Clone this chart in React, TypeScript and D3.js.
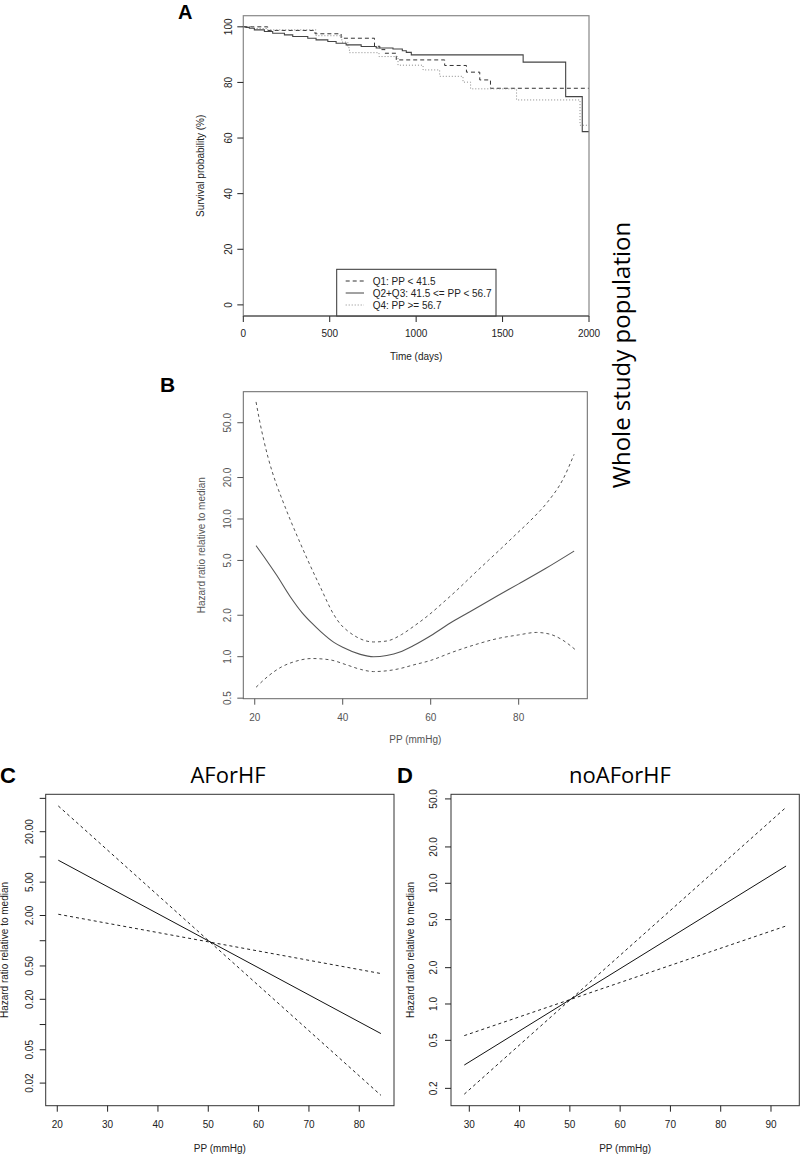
import React from "react";
import * as d3 from "d3";

// ---------- Panel A: Kaplan-Meier survival (step points: time in days, survival %) ----------
const q1Times = [0, 141, 415, 566, 759, 790, 820, 885, 1165, 1291, 1368, 1430, 2000];
const q1Surv = [100, 98.7, 97.5, 95.9, 93.0, 91.8, 90.5, 88.1, 86.1, 83.7, 80.9, 77.9, 77.9];

const q23Times = [0, 15, 35, 64, 122, 170, 238, 286, 373, 421, 489, 537, 595, 682, 769, 866, 920, 943, 972, 1619, 1865, 1961, 2000];
const q23Surv = [100, 99.8, 99.5, 98.9, 98.3, 97.7, 97.1, 96.5, 95.9, 95.3, 94.7, 94.1, 93.5, 92.9, 92.4, 92.0, 91.4, 90.8, 89.9, 87.3, 74.9, 62.3, 62.3];

const q4Times = [0, 60, 140, 421, 570, 605, 614, 785, 895, 1040, 1136, 1271, 1315, 1581, 1948, 2000];
const q4Surv = [100, 99.4, 98.9, 96.8, 94.5, 92.5, 90.7, 89.3, 86.2, 84.5, 82.2, 80.1, 77.7, 73.7, 64.6, 64.6];

const legendLabels = ["Q1: PP < 41.5", "Q2+Q3: 41.5 <= PP < 56.7", "Q4: PP >= 56.7"];
const aXTicks = [0, 500, 1000, 1500, 2000];
const aYTicks = [0, 20, 40, 60, 80, 100];

// ---------- Panel B: spline hazard ratio (whole population) ----------
const bFitX = [20.3, 22.7, 25, 28, 30.7, 33, 35, 38, 40, 44, 47, 50, 53, 56, 60, 65, 70, 75, 80, 86, 92.6];
const bFitHR = [6.4, 5.0, 3.9, 2.75, 2.1, 1.75, 1.52, 1.27, 1.17, 1.04, 1.0, 1.02, 1.08, 1.2, 1.42, 1.8, 2.22, 2.75, 3.38, 4.35, 5.85];

const bUpX = [20.3, 21, 22, 23, 24, 25, 26, 28, 30, 32, 35, 37.9, 39.5, 41, 43, 45, 47, 50, 53.4, 56, 59.5, 63, 66, 69.5, 73.1, 76, 79.5, 83.3, 86.5, 90.1, 92.6];
const bUpHR = [70.8, 53.7, 38.0, 28.2, 21.9, 17.6, 14.5, 10.0, 7.08, 5.07, 3.16, 2.04, 1.72, 1.55, 1.4, 1.31, 1.28, 1.3, 1.45, 1.65, 2.0, 2.5, 3.05, 3.9, 5.0, 6.1, 7.8, 10.2, 13.2, 19.5, 29.5];

const bLoX = [20.3, 23, 26, 29, 33, 37, 41, 44, 47, 50, 53, 56, 60, 65, 70, 75, 80, 84, 87, 90, 92.8];
const bLoHR = [0.6, 0.72, 0.84, 0.92, 0.97, 0.95, 0.87, 0.81, 0.78, 0.79, 0.82, 0.87, 0.94, 1.08, 1.22, 1.35, 1.44, 1.5, 1.46, 1.32, 1.13];

const bXTicks = [20, 40, 60, 80];
const bYTicks = [0.5, 1, 2, 5, 10, 20, 50];
const bYLabels = ["0.5", "1.0", "2.0", "5.0", "10.0", "20.0", "50.0"];

// ---------- Panel C: AForHF (log-linear) ----------
const cX = [20.2, 84.3];
const cFit = [9.14, 0.078];
const cUpper = [40.6, 0.0143];
const cLower = [2.07, 0.406];
const cXTicks = [20, 30, 40, 50, 60, 70, 80];
const cYTicks = [0.02, 0.05, 0.1, 0.2, 0.5, 1, 2, 5, 10, 20, 50];
const cYLabels = ["0.02", "0.05", "", "0.20", "0.50", "", "2.00", "5.00", "", "20.00", ""];

// ---------- Panel D: noAForHF (log-linear) ----------
const dX = [29, 93];
const dFit = [0.312, 13.9];
const dUpper = [0.179, 42.6];
const dLower = [0.547, 4.43];
const dXTicks = [30, 40, 50, 60, 70, 80, 90];
const dYTicks = [0.2, 0.5, 1, 2, 5, 10, 20, 50];
const dYLabels = ["0.2", "0.5", "1.0", "2.0", "5.0", "10.0", "20.0", "50.0"];

const FONT = "'Liberation Sans', Arial, Helvetica, sans-serif";
const TITLE_FONT = "'Open Sans', 'Noto Sans', sans-serif";

type Scale = (v: number) => number;

function YAxis(props: {
  y: Scale; ticks: number[]; labels: string[]; x0: number; labelX: number; color: string;
}) {
  const { y, ticks, labels, x0, labelX, color } = props;
  return (
    <g>
      {ticks.map((t, i) => (
        <g key={i}>
          <line x1={x0 - 6} x2={x0} y1={y(t)} y2={y(t)} stroke={color} strokeWidth={1} />
          {labels[i] !== "" && (
            <text
              transform={`translate(${labelX},${y(t)}) rotate(-90)`}
              textAnchor="middle"
              fontFamily={FONT}
              fontSize={10}
              fill={color}
            >
              {labels[i]}
            </text>
          )}
        </g>
      ))}
    </g>
  );
}

function XAxis(props: {
  x: Scale; ticks: number[]; labels: string[]; y0: number; labelY: number; color: string;
}) {
  const { x, ticks, labels, y0, labelY, color } = props;
  return (
    <g>
      {ticks.map((t, i) => (
        <g key={i}>
          <line x1={x(t)} x2={x(t)} y1={y0} y2={y0 + 6} stroke={color} strokeWidth={1} />
          <text x={x(t)} y={labelY} textAnchor="middle" fontFamily={FONT} fontSize={10} fill={color}>
            {labels[i]}
          </text>
        </g>
      ))}
    </g>
  );
}

function zip(xs: number[], ys: number[]): [number, number][] {
  return xs.map((v, i) => [v, ys[i]] as [number, number]);
}

export default function App() {
  // ----- Panel A scales -----
  const aL = 243.3, aR = 589, aT = 15.7, aB = 316;
  const ax = d3.scaleLinear().domain([0, 2000]).range([aL, aR]);
  const ay = d3.scaleLinear().domain([-4, 104]).range([aB, aT]);
  const stepLine = d3
    .line<[number, number]>()
    .x((d) => ax(d[0]))
    .y((d) => ay(d[1]))
    .curve(d3.curveStepAfter);

  // ----- Panel B scales -----
  const bL = 243.3, bR = 587.3, bT = 391.7, bB = 698.7;
  const bx = d3.scaleLinear().domain([17.4, 95.6]).range([bL, bR]);
  const by = d3.scaleLog().domain([0.4955, 84]).range([bB, bT]);
  const bLine = d3
    .line<[number, number]>()
    .x((d) => bx(d[0]))
    .y((d) => by(d[1]))
    .curve(d3.curveMonotoneX);

  // ----- Panel C scales -----
  const cL = 45.7, cR = 394, cT = 794.3, cB = 1105.7;
  const cx = d3.scaleLinear().domain([17.7, 86.9]).range([cL, cR]);
  const cy = d3.scaleLog().domain([0.01075, 55.9]).range([cB, cT]);
  const cLine = d3.line<[number, number]>().x((d) => cx(d[0])).y((d) => cy(d[1]));

  // ----- Panel D scales -----
  const dL = 451, dR = 799.3, dT = 794.3, dB = 1105.7;
  const dx = d3.scaleLinear().domain([26.36, 95.63]).range([dL, dR]);
  const dy = d3.scaleLog().domain([0.1437, 54.6]).range([dB, dT]);
  const dLine = d3.line<[number, number]>().x((d) => dx(d[0])).y((d) => dy(d[1]));

  const aText = "#222";
  const bText = "#555";
  const bStroke = "#555";

  const legendStyles = [
    { stroke: "#333", dash: "4,3" },
    { stroke: "#444", dash: "" },
    { stroke: "#888", dash: "1,2" },
  ];

  return (
    <svg
      width={802}
      height={1154}
      style={{ position: "absolute", left: 0, top: 0, display: "block", background: "#fff" }}
    >
      <rect x={0} y={0} width={802} height={1154} fill="#fff" />

      {/* ================= Panel A ================= */}
      <text x={178} y={19} fontFamily={FONT} fontWeight="bold" fontSize={20} fill="#000">A</text>
      <path d={stepLine(zip(q1Times, q1Surv)) || ""} fill="none" stroke="#333" strokeWidth={1} strokeDasharray="4,3" />
      <path d={stepLine(zip(q4Times, q4Surv)) || ""} fill="none" stroke="#888" strokeWidth={1} strokeDasharray="1,2" />
      <path d={stepLine(zip(q23Times, q23Surv)) || ""} fill="none" stroke="#444" strokeWidth={1.1} />
      <rect x={aL} y={aT} width={aR - aL} height={aB - aT} fill="none" stroke="#888" strokeWidth={1.2} />
      <YAxis y={ay} ticks={aYTicks} labels={aYTicks.map(String)} x0={aL} labelX={232} color={aText} />
      <XAxis x={ax} ticks={aXTicks} labels={aXTicks.map(String)} y0={aB} labelY={337} color={aText} />
      <text
        transform={`translate(204.3,${(aT + aB) / 2}) rotate(-90)`}
        textAnchor="middle"
        fontFamily={FONT}
        fontSize={10}
        fill={aText}
      >
        Survival probability (%)
      </text>
      <text x={(aL + aR) / 2} y={359.5} textAnchor="middle" fontFamily={FONT} fontSize={10} fill={aText}>
        Time (days)
      </text>
      {/* legend */}
      <rect x={336.7} y={269.3} width={159.3} height={aB - 269.3} fill="#fff" stroke="#333" strokeWidth={1} />
      {legendLabels.map((lab, i) => (
        <g key={lab}>
          <line
            x1={345.7}
            x2={364}
            y1={281 + i * 12}
            y2={281 + i * 12}
            stroke={legendStyles[i].stroke}
            strokeWidth={1}
            strokeDasharray={legendStyles[i].dash}
          />
          <text x={372.7} y={284.5 + i * 12} fontFamily={FONT} fontSize={10} fill={aText}>
            {lab}
          </text>
        </g>
      ))}
      <line x1={aL} x2={aR} y1={aB} y2={aB} stroke="#444" strokeWidth={1} />

      {/* Side label */}
      <text
        transform={`translate(630,355) rotate(-90)`}
        textAnchor="middle"
        fontFamily={TITLE_FONT}
        fontSize={24}
        fill="#000"
      >
        Whole study population
      </text>

      {/* ================= Panel B ================= */}
      <text x={160} y={392} fontFamily={FONT} fontWeight="bold" fontSize={21} fill="#000">B</text>
      <path d={bLine(zip(bUpX, bUpHR)) || ""} fill="none" stroke={bStroke} strokeWidth={1} strokeDasharray="3,3" />
      <path d={bLine(zip(bLoX, bLoHR)) || ""} fill="none" stroke={bStroke} strokeWidth={1} strokeDasharray="3,3" />
      <path d={bLine(zip(bFitX, bFitHR)) || ""} fill="none" stroke={bStroke} strokeWidth={1.1} />
      <rect x={bL} y={bT} width={bR - bL} height={bB - bT} fill="none" stroke="#666" strokeWidth={1} />
      <YAxis y={by} ticks={bYTicks} labels={bYLabels} x0={bL} labelX={231} color={bText} />
      <XAxis x={bx} ticks={bXTicks} labels={bXTicks.map(String)} y0={bB} labelY={720.7} color={bText} />
      <text
        transform={`translate(204.5,${(bT + bB) / 2}) rotate(-90)`}
        textAnchor="middle"
        fontFamily={FONT}
        fontSize={10}
        fill={bText}
      >
        Hazard ratio relative to median
      </text>
      <text x={(bL + bR) / 2} y={743} textAnchor="middle" fontFamily={FONT} fontSize={10} fill={bText}>
        PP (mmHg)
      </text>

      {/* ================= Panel C ================= */}
      <text x={0} y={783} fontFamily={FONT} fontWeight="bold" fontSize={22} fill="#000">C</text>
      <text x={228} y={783} textAnchor="middle" fontFamily={TITLE_FONT} fontSize={22} fill="#000">AForHF</text>
      <path d={cLine(zip(cX, cUpper)) || ""} fill="none" stroke="#222" strokeWidth={1} strokeDasharray="3,3" />
      <path d={cLine(zip(cX, cLower)) || ""} fill="none" stroke="#222" strokeWidth={1} strokeDasharray="3,3" />
      <path d={cLine(zip(cX, cFit)) || ""} fill="none" stroke="#111" strokeWidth={1} />
      <rect x={cL} y={cT} width={cR - cL} height={cB - cT} fill="none" stroke="#333" strokeWidth={1} />
      <YAxis y={cy} ticks={cYTicks} labels={cYLabels} x0={cL} labelX={32.5} color="#222" />
      <XAxis x={cx} ticks={cXTicks} labels={cXTicks.map(String)} y0={cB} labelY={1128} color="#222" />
      <text
        transform={`translate(7.5,${(cT + cB) / 2}) rotate(-90)`}
        textAnchor="middle"
        fontFamily={FONT}
        fontSize={10}
        fill="#222"
      >
        Hazard ratio relative to median
      </text>
      <text x={(cL + cR) / 2} y={1151.5} textAnchor="middle" fontFamily={FONT} fontSize={10} fill="#222">
        PP (mmHg)
      </text>

      {/* ================= Panel D ================= */}
      <text x={397} y={783} fontFamily={FONT} fontWeight="bold" fontSize={22} fill="#000">D</text>
      <text x={620} y={783} textAnchor="middle" fontFamily={TITLE_FONT} fontSize={22} fill="#000">noAForHF</text>
      <path d={dLine(zip(dX, dUpper)) || ""} fill="none" stroke="#222" strokeWidth={1} strokeDasharray="3,3" />
      <path d={dLine(zip(dX, dLower)) || ""} fill="none" stroke="#222" strokeWidth={1} strokeDasharray="3,3" />
      <path d={dLine(zip(dX, dFit)) || ""} fill="none" stroke="#111" strokeWidth={1} />
      <rect x={dL} y={dT} width={dR - dL} height={dB - dT} fill="none" stroke="#333" strokeWidth={1} />
      <YAxis y={dy} ticks={dYTicks} labels={dYLabels} x0={dL} labelX={437} color="#222" />
      <XAxis x={dx} ticks={dXTicks} labels={dXTicks.map(String)} y0={dB} labelY={1128} color="#222" />
      <text
        transform={`translate(414,${(dT + dB) / 2}) rotate(-90)`}
        textAnchor="middle"
        fontFamily={FONT}
        fontSize={10}
        fill="#222"
      >
        Hazard ratio relative to median
      </text>
      <text x={(dL + dR) / 2} y={1151.5} textAnchor="middle" fontFamily={FONT} fontSize={10} fill="#222">
        PP (mmHg)
      </text>
    </svg>
  );
}
